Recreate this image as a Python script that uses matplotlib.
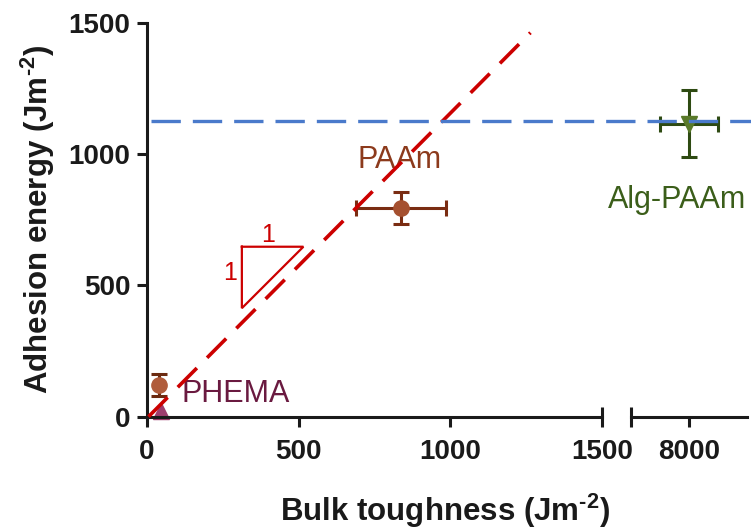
"""
Adhesion energy versus bulk toughness, with a broken x axis for Alg-PAAm.
"""
import matplotlib
matplotlib.use("Agg")
import matplotlib.pyplot as plt

plt.rcParams['font.family'] = ['Liberation Sans', 'DejaVu Sans']
plt.rcParams['mathtext.fontset'] = 'custom'
plt.rcParams['mathtext.rm'] = 'Liberation Sans:bold'
plt.rcParams['mathtext.bf'] = 'Liberation Sans:bold'
plt.rcParams['mathtext.default'] = 'bf'

# PHEMA (two measurements), PAAm, Alg-PAAm: toughness, adhesion, errors
phema_x, phema_y, phema_yerr = 40, 120, 42
phema2_x, phema2_y = 45, 22
paam_x, paam_y, paam_xerr, paam_yerr = 838, 794, 147, 61
alg_x, alg_y, alg_xerr, alg_yerr = 8000, 1115, 95, 127

# slope-one guide and upper plateau
fit_x = [5, 1265]
fit_y = [0, 1462]
plateau_y = 1125

# small slope triangle
tri_x = [313, 516, 313, 313]
tri_y = [647, 647, 413, 647]

left_ticks = [0, 500, 1000, 1500]
right_ticks = [8000]

red = '#cc0000'
blue = '#4a7acb'
ink = '#1a1a1a'

fig = plt.figure(figsize=(7.51, 5.31), dpi=100)
ax1 = fig.add_axes([0.1957, 0.2153, 0.6055, 0.7420])
ax2 = fig.add_axes([0.8402, 0.2153, 0.1545, 0.7420])
ax1.set_zorder(2)
ax2.set_zorder(1)
for ax in (ax1, ax2):
    ax.patch.set_facecolor('none')
    ax.set_ylim(0, 1500)
    for s in ('top', 'right'):
        ax.spines[s].set_visible(False)
    for s in ('left', 'bottom'):
        ax.spines[s].set_linewidth(2.2)
        ax.spines[s].set_color(ink)
    ax.tick_params(width=2.2, length=7, color=ink, labelsize=20,
                   labelcolor=ink, pad=5)
    ax.tick_params(axis='x', pad=9)

ax1.set_xlim(0, 1500)
ax1.set_xticks(left_ticks)
ax1.set_yticks(left_ticks)
ax1.set_xticklabels([str(t) for t in left_ticks], fontweight='bold')
ax1.set_yticklabels([str(t) for t in left_ticks], fontweight='bold')

ax2.set_xlim(7808, 8192)
ax2.spines['left'].set_visible(False)
ax2.set_yticks([])
ax2.set_xticks(right_ticks)
ax2.set_xticklabels([str(t) for t in right_ticks], fontweight='bold')

# break marks at both ends of the gap
ax1.plot([1, 1], [0, 0.025], transform=ax1.transAxes, color=ink,
         lw=2.2, clip_on=False, solid_capstyle='butt')
ax2.plot([0, 0], [-0.025, 0.025], transform=ax2.transAxes, color=ink,
         lw=2.2, clip_on=False, solid_capstyle='butt')

# PHEMA
ax1.errorbar(phema_x, phema_y, yerr=phema_yerr, fmt='o', ms=11,
             color='#b05c3c', ecolor='#6b2a10', elinewidth=2.2,
             capsize=5.5, capthick=2.2, mec='#b05c3c', clip_on=False)
ax1.plot(phema2_x, phema2_y, '^', ms=12, color='#9e3d6e', clip_on=False)

# PAAm
ax1.errorbar(paam_x, paam_y, xerr=paam_xerr, yerr=paam_yerr, fmt='o',
             ms=11, color='#a5502f', ecolor='#7a2c12', elinewidth=2.2,
             capsize=5.5, capthick=2.2, mec='#a5502f')

# Alg-PAAm
ax2.errorbar(alg_x, alg_y, xerr=alg_xerr, yerr=alg_yerr, fmt='v', ms=11,
             color='#5a7a2a', ecolor='#2e4a12', elinewidth=2.2,
             capsize=5.5, capthick=2.2, mec='#5a7a2a')

# guide lines
ax1.plot(fit_x, fit_y, color=red, lw=2.6, dashes=(7.5, 4), zorder=5,
         clip_on=False)
ax1.axhline(plateau_y, xmin=0.008, xmax=1.33, color=blue, lw=2.4,
            dashes=(8.8, 3.6), zorder=6, clip_on=False)

ax1.plot(tri_x, tri_y, color=red, lw=1.6, solid_joinstyle='miter')
ax1.text(401, 692, '1', color=red, fontsize=18, ha='center', va='center')
ax1.text(274, 547, '1', color=red, fontsize=18, ha='center', va='center')

ax1.text(833, 946, 'PAAm', color='#8c3a1c', fontsize=22, ha='center',
         va='baseline')
ax1.text(115, 57, 'PHEMA', color='#6a1a40', fontsize=22, ha='left',
         va='baseline')
ax2.text(7960, 795, 'Alg-PAAm', color='#3b5e1a', fontsize=22, ha='center',
         va='baseline', clip_on=False)

ax1.set_ylabel(r'Adhesion energy (Jm$^{\text{-2}}$)', fontsize=22.5,
               fontweight='bold', color=ink, labelpad=8)
fig.text(445 / 751, 1 - 521 / 531, r'Bulk toughness (Jm$^{\text{-2}}$)',
         fontsize=22.5, fontweight='bold', color=ink, ha='center',
         va='baseline')

fig.savefig('out.png', dpi=100)
